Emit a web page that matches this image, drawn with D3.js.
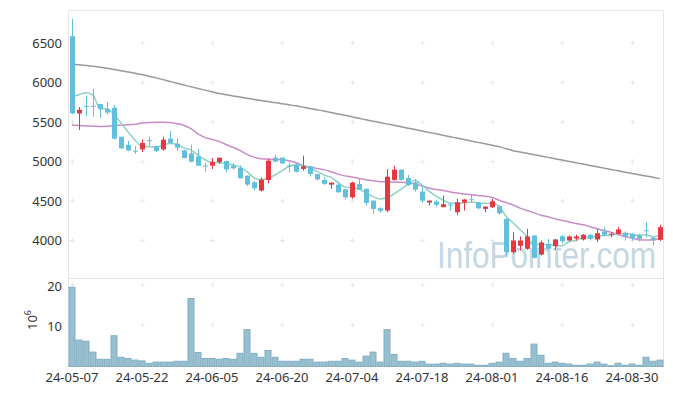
<!DOCTYPE html>
<html>
<head>
<meta charset="utf-8">
<script src="https://cdn.jsdelivr.net/npm/d3@7"></script>
<style>
  html, body { margin: 0; padding: 0; background: #fff; }
  svg { display: block; font-family: "Noto Sans", sans-serif; }
</style>
</head>
<body>
<script>
// trading days (24-05-07 .. 24-09-05)
const dates = [
  "24-05-07","24-05-08","24-05-09","24-05-10","24-05-13","24-05-14","24-05-16","24-05-17","24-05-20","24-05-21",
  "24-05-22","24-05-23","24-05-24","24-05-27","24-05-28","24-05-29","24-05-30","24-05-31","24-06-03","24-06-04",
  "24-06-05","24-06-07","24-06-10","24-06-11","24-06-12","24-06-13","24-06-14","24-06-17","24-06-18","24-06-19",
  "24-06-20","24-06-21","24-06-24","24-06-25","24-06-26","24-06-27","24-06-28","24-07-01","24-07-02","24-07-03",
  "24-07-04","24-07-05","24-07-08","24-07-09","24-07-10","24-07-11","24-07-12","24-07-15","24-07-16","24-07-17",
  "24-07-18","24-07-19","24-07-22","24-07-23","24-07-24","24-07-25","24-07-26","24-07-29","24-07-30","24-07-31",
  "24-08-01","24-08-02","24-08-05","24-08-06","24-08-07","24-08-08","24-08-09","24-08-12","24-08-13","24-08-14",
  "24-08-16","24-08-19","24-08-20","24-08-21","24-08-22","24-08-23","24-08-26","24-08-27","24-08-28","24-08-29",
  "24-08-30","24-09-02","24-09-03","24-09-04","24-09-05"
];
const tickLabels = ["24-05-07","24-05-22","24-06-05","24-06-20","24-07-04","24-07-18","24-08-01","24-08-16","24-08-30"];

const open = [
  6585,5608,5705,5705,5727,5663,5680,5313,5212,5136, 5153,5270,5196,5153,5288,5225,5140,5103,5065,4950,
  4947,4994,5006,4947,4918,4821,4736,4632,4766,5048, 5048,4950,4956,4906,4938,4842,4766,4707,4707,4648,
  4547,4716,4653,4505,4408,4379,4767,4897,4792,4736, 4619,4480,4493,4421,4455,4358,4480,4522,4484,4400,
  4421,4433,4274,3852,3933,3895,4063,3823,3958,3928, 4054,4000,4025,4013,4072,4013,4114,4072,4084,4097,
  4084,4063,4130,4034,4009
];
const high = [
  6804,5689,5835,5920,5730,5752,5714,5313,5259,5196, 5279,5313,5200,5313,5386,5297,5150,5216,5158,4989,
  5044,5048,5010,4981,4951,4821,4753,4800,5032,5082, 5050,4989,4976,5074,4940,4845,4800,4735,4745,4650,
  4745,4779,4660,4505,4421,4906,4947,4897,4830,4779, 4686,4505,4518,4568,4484,4526,4526,4590,4490,4432,
  4526,4440,4280,4105,4051,4148,4070,4000,4021,4021, 4070,4063,4075,4084,4084,4148,4168,4105,4168,4114,
  4090,4084,4231,4054,4198
];
const low = [
  5600,5398,5575,5566,5553,5591,5280,5160,5135,5095, 5120,5196,5120,5137,5234,5137,5040,4990,4947,4871,
  4905,4969,4863,4896,4787,4686,4635,4619,4724,4989, 4969,4863,4860,4884,4808,4758,4703,4653,4605,4518,
  4530,4640,4442,4337,4350,4358,4758,4758,4690,4619, 4476,4442,4421,4421,4379,4320,4379,4484,4395,4358,
  4412,4324,3789,3832,3874,3882,3775,3810,3874,3882, 3958,3990,4000,4000,4000,3979,4054,4042,4072,4000,
  4000,3990,4034,3937,3990
];
const close = [
  5608,5655,5700,5700,5663,5620,5288,5166,5140,5133, 5234,5265,5133,5276,5234,5175,5044,4998,4947,4947,
  4994,5048,4900,4913,4787,4707,4661,4770,5010,4998, 4976,4947,4871,4938,4842,4774,4716,4733,4610,4547,
  4733,4640,4476,4400,4375,4808,4897,4767,4703,4644, 4505,4505,4451,4459,4451,4484,4518,4518,4408,4429,
  4497,4345,3852,4000,4000,4051,3781,3975,3895,4013, 3991,4051,4051,4072,4021,4092,4072,4084,4139,4051,
  4034,4021,4126,4000,4168
];
// volume, millions of shares
const volume = [
  19.8,6.6,6.3,3.6,1.8,1.8,7.7,2.3,2.0,1.6, 1.4,0.8,1.1,1.1,1.1,1.3,1.3,17.0,3.5,2.0,
  2.0,1.8,2.0,1.8,3.3,9.2,3.3,2.3,4.0,2.3, 1.3,1.3,1.3,1.8,1.8,1.1,1.1,1.3,1.3,2.0,
  1.6,1.1,2.6,3.6,1.1,9.2,3.0,1.3,1.3,1.1, 1.3,0.6,0.6,0.8,0.6,0.8,0.6,0.6,0.3,0.3,
  0.8,1.1,3.3,2.0,1.3,2.0,5.6,2.8,0.8,1.1, 0.8,0.6,0.3,0.3,0.6,1.1,0.6,0.2,0.8,0.3,
  0.6,0.3,2.3,1.3,1.6
];
const ma5 = [
  5820,5845,5870,5840,5666,5668,5595,5488,5375,5269, 5192,5188,5181,5209,5229,5217,5172,5145,5080,5022,
  4986,4987,4967,4960,4928,4871,4794,4768,4787,4829, 4883,4940,4960,4946,4915,4874,4828,4801,4735,4676,
  4668,4653,4601,4559,4525,4540,4591,4649,4710,4764, 4703,4625,4562,4513,4474,4470,4473,4486,4476,4471,
  4474,4439,4306,4225,4139,4050,3937,3961,3940,3943, 3931,3985,4000,4036,4037,4057,4062,4068,4082,4088,
  4076,4066,4074,4046,4070
];
const ma20 = [
  5461,5455,5450,5447,5444,5447,5452,5458,5465,5470, 5488,5492,5496,5498,5492,5478,5456,5415,5350,5305,
  5280,5255,5215,5178,5140,5090,5055,5035,5030,5025, 5023,5010,4985,4950,4930,4912,4897,4870,4840,4818,
  4805,4785,4770,4755,4745,4742,4740,4736,4728,4715, 4690,4665,4645,4632,4615,4600,4590,4580,4570,4560,
  4547,4510,4480,4450,4410,4380,4350,4320,4300,4275, 4253,4235,4215,4198,4175,4150,4126,4105,4075,4050,
  4030,4010,4005,4010,4021
];
const ma60 = [
  6232,6223,6214,6204,6193,6180,6165,6149,6133,6117, 6100,6080,6058,6036,6013,5990,5968,5946,5924,5903,
  5882,5860,5845,5830,5815,5800,5786,5772,5758,5745, 5732,5718,5704,5688,5672,5655,5638,5620,5602,5584,
  5565,5546,5527,5510,5493,5476,5458,5440,5422,5404, 5386,5368,5350,5332,5314,5296,5278,5260,5242,5224,
  5206,5188,5162,5137,5120,5103,5086,5069,5052,5035, 5018,5001,4984,4967,4950,4933,4916,4899,4882,4865,
  4849,4832,4816,4800,4783
];
const priceTicks = [4000, 4500, 5000, 5500, 6000, 6500];
const volumeTicks = [10, 20];

const width = 673, height = 396;
const left = 68.5, right = 663.5;
const priceTop = 10.5, priceBottom = 278.5, volBottom = 366.5;

const upColor = "#e6383f", downColor = "#62c0dc";
const frameColor = "#e5e5e5", gridColor = "#e8e8e8";

const svg = d3.select(document.body).append("svg")
  .attr("width", width)
  .attr("height", height);

const x = d3.scaleBand().domain(d3.range(dates.length)).range([left, right]).paddingInner(0);
const cx = i => x(i) + x.bandwidth() / 2;
const y = d3.scaleLinear().domain([3519, 6911]).range([priceBottom, priceTop]);
const yv = d3.scaleLinear().domain([0, 22]).range([volBottom, priceBottom]);

// frame
svg.append("path")
  .attr("d", `M${left},${volBottom + 0.5}V${priceTop}H${right}V${volBottom + 0.5}M${left},${priceBottom}H${right}`)
  .attr("fill", "none")
  .attr("stroke", frameColor);

// "+" grid marks
const tickIdx = tickLabels.map(t => dates.indexOf(t));
const gridYs = priceTicks.map(y).concat(volumeTicks.map(v => yv(v) - 1.5));
const marks = [];
tickIdx.forEach(i => gridYs.forEach(gy => marks.push([cx(i) + 0.5, gy])));
svg.append("g").selectAll("path").data(marks).join("path")
  .attr("d", d => `M${d[0] - 2.5},${d[1]}h5M${d[0]},${d[1] - 2.5}v5`)
  .attr("stroke", gridColor);

// watermark
svg.append("text")
  .attr("x", 437).attr("y", 268)
  .attr("font-family", "'Liberation Sans Narrow', 'Liberation Sans', sans-serif")
  .attr("font-size", 37)
  .attr("textLength", 219).attr("lengthAdjust", "spacingAndGlyphs")
  .attr("fill", "#c4d7e2")
  .text("InfoPointer.com");

// moving averages
const line = d3.line().x((d, i) => cx(i)).y(d => y(d)).curve(d3.curveMonotoneX);
[[ma60, "#999999"], [ma20, "#c98cc6"], [ma5, "#8fd2c4"]].forEach(([vals, col]) => {
  svg.append("path")
    .attr("d", line(vals))
    .attr("fill", "none")
    .attr("stroke", col)
    .attr("stroke-width", 1.5);
});

// candles
const candles = svg.append("g").selectAll("g").data(dates.map((d, i) => i)).join("g")
  .attr("fill", i => close[i] > open[i] ? upColor : downColor)
  .attr("stroke", i => close[i] > open[i] ? upColor : downColor);
candles.append("line")
  .attr("x1", i => Math.round(cx(i)) + 0.5).attr("x2", i => Math.round(cx(i)) + 0.5)
  .attr("y1", i => y(high[i])).attr("y2", i => y(low[i]));
candles.append("rect")
  .attr("stroke", "none")
  .attr("x", i => Math.round(cx(i)) - 2)
  .attr("width", 5)
  .attr("y", i => y(Math.max(open[i], close[i])))
  .attr("height", i => Math.max(1, y(Math.min(open[i], close[i])) - y(Math.max(open[i], close[i]))));

// volume bars
svg.append("g").selectAll("rect").data(volume).join("rect")
  .attr("x", (d, i) => x(i) + 0.5)
  .attr("width", x.bandwidth() - 1)
  .attr("y", d => yv(d))
  .attr("height", d => yv(0) - yv(d))
  .attr("fill", "#98bfd0")
  .attr("stroke", "#80aec2")
  .attr("stroke-width", 1);

// axes labels
const label = { fill: "#333", size: 13 };
svg.append("g").selectAll("text").data(priceTicks).join("text")
  .attr("x", 62).attr("y", d => y(d)).attr("dy", "0.35em")
  .attr("text-anchor", "end")
  .attr("font-size", label.size).attr("fill", label.fill)
  .text(d => d);
svg.append("g").selectAll("text").data(volumeTicks).join("text")
  .attr("x", 62).attr("y", d => yv(d)).attr("dy", "0.35em")
  .attr("text-anchor", "end")
  .attr("font-size", label.size).attr("fill", label.fill)
  .text(d => d);
svg.append("g").selectAll("text").data(tickLabels).join("text")
  .attr("x", d => cx(dates.indexOf(d)))
  .attr("y", 382)
  .attr("text-anchor", "middle")
  .attr("font-size", label.size).attr("fill", label.fill)
  .text(d => d);

const unit = svg.append("text")
  .attr("transform", "translate(37,320) rotate(-90)")
  .attr("text-anchor", "middle")
  .attr("font-size", label.size).attr("fill", label.fill);
unit.append("tspan").text("10");
unit.append("tspan").attr("font-size", 9).attr("dy", -6).text("6");
</script>
</body>
</html>
